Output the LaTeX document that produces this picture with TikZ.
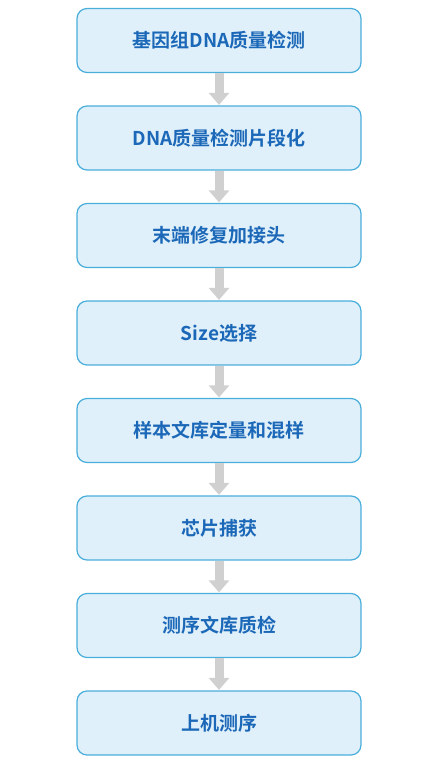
\documentclass[tikz,border=0pt]{standalone}
\usepackage{fontspec}
\newfontfamily\cjk{Noto Sans CJK SC Bold}
\usetikzlibrary{arrows.meta}
\definecolor{boxfill}{HTML}{DFF0FA}
\definecolor{boxline}{HTML}{4AAEDB}
\definecolor{txt}{HTML}{1C68B8}
\definecolor{arr}{HTML}{D0D0D0}
\begin{document}
\begin{tikzpicture}[x=1pt,y=-1pt,
  stepbox/.style={draw=boxline, line width=1.2pt, fill=boxfill, rounded corners=10pt,
    minimum width=284pt, minimum height=64pt, inner sep=0pt, text=txt,
    font=\cjk\fontsize{19}{21}\selectfont},
  flow/.style={draw=arr, line width=9pt, -{Triangle[width=20pt,length=12pt]}, shorten >=0.5pt}]
\useasboundingbox (0,0) rectangle (430,767);
\node[stepbox] (b1) at (219,40.5) {基因组DNA质量检测};
\node[stepbox] (b2) at (219,138) {DNA质量检测片段化};
\node[stepbox] (b3) at (219,235.5) {末端修复加接头};
\node[stepbox] (b4) at (219,333) {Size选择};
\node[stepbox] (b5) at (219,430.5) {样本文库定量和混样};
\node[stepbox] (b6) at (219,528) {芯片捕获};
\node[stepbox] (b7) at (219,625.5) {测序文库质检};
\node[stepbox] (b8) at (219,723) {上机测序};
\foreach \a/\b in {b1/b2,b2/b3,b3/b4,b4/b5,b5/b6,b6/b7,b7/b8}
  \draw[flow] (\a.south) -- (\b.north);
\end{tikzpicture}
\end{document}
